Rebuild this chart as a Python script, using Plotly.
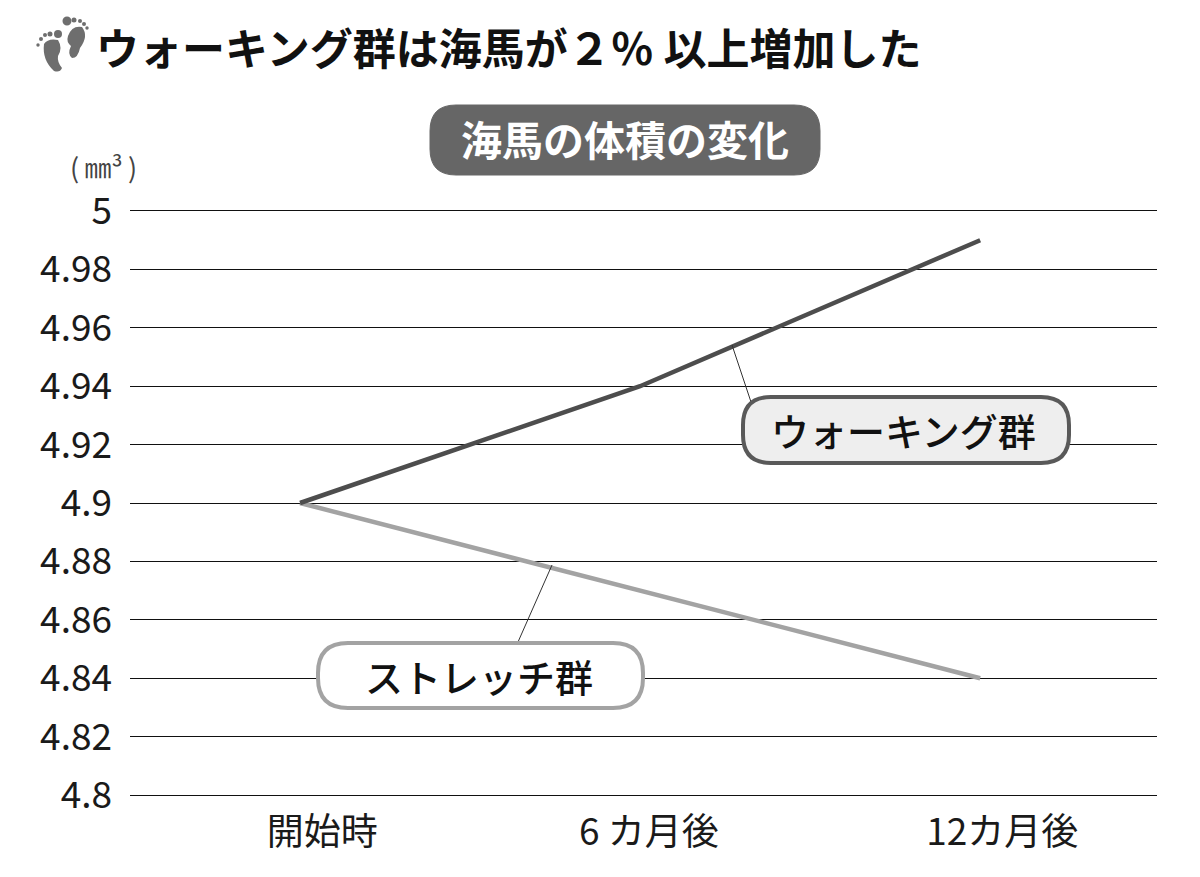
# plot.py
# Hippocampus volume over 12 months, walking vs stretching group.
# Callouts, the title badge and the feet icon are placed in image pixels.

import plotly.graph_objects as go

# The page keeps the browser's 8px body margin, so the figure is 8px smaller
# and image pixels are shifted by that much.
PAGE_MARGIN = 8
WIDTH, HEIGHT = 1200 - PAGE_MARGIN, 877 - PAGE_MARGIN
LEFT, RIGHT, TOP, BOTTOM = 130, 1157, 211, 795
JP_FONT = "Noto Sans CJK JP"

categories = ["開始時", "6 カ月後", "12カ月後"]
walking = [4.9, 4.94, 4.99]
stretch = [4.9, 4.87, 4.84]
y_ticks = [4.8, 4.82, 4.84, 4.86, 4.88, 4.9, 4.92, 4.94, 4.96, 4.98, 5]
y_labels = ["4.8", "4.82", "4.84", "4.86", "4.88", "4.9", "4.92", "4.94", "4.96", "4.98", "5"]
# The printed labels sit a little to the right of the points they name.
label_positions = [0.065, 1.026, 2.065]

WALK_COLOR = "#4d4d4d"
STRETCH_COLOR = "#a3a3a3"
INK = "#1a1a1a"


def px(x):
    return (x - LEFT) / (RIGHT - LEFT)


def py(y):
    return (BOTTOM - y) / (BOTTOM - TOP)


def pill_path(x0, y0, x1, y1, r):
    return (
        f"M {px(x0 + r)} {py(y0)} L {px(x1 - r)} {py(y0)} "
        f"Q {px(x1)} {py(y0)} {px(x1)} {py(y0 + r)} L {px(x1)} {py(y1 - r)} "
        f"Q {px(x1)} {py(y1)} {px(x1 - r)} {py(y1)} L {px(x0 + r)} {py(y1)} "
        f"Q {px(x0)} {py(y1)} {px(x0)} {py(y1 - r)} L {px(x0)} {py(y0 + r)} "
        f"Q {px(x0)} {py(y0)} {px(x0 + r)} {py(y0)} Z"
    )


def pill(x0, y0, x1, y1, r, fill, line, width):
    return dict(type="path", xref="paper", yref="paper", path=pill_path(x0, y0, x1, y1, r),
                fillcolor=fill, line=dict(color=line, width=width), layer="above")


def leader(x0, y0, x1, y1):
    return dict(type="line", xref="paper", yref="paper", x0=px(x0), y0=py(y0), x1=px(x1), y1=py(y1),
                line=dict(color="#333333", width=1), layer="above")


def dot(cx, cy, rx, ry=None):
    ry = rx if ry is None else ry
    return dict(type="circle", xref="paper", yref="paper", x0=px(cx - rx), x1=px(cx + rx),
                y0=py(cy + ry), y1=py(cy - ry), fillcolor="#6e6e6e", line_width=0, layer="above")


def sole(points):
    # Closed smooth outline through pairs of quadratic curves.
    x, y = points[0]
    path = f"M {px(x)} {py(y)}"
    for (cx, cy), (ex, ey) in zip(points[1::2], points[2::2]):
        path += f" Q {px(cx)} {py(cy)} {px(ex)} {py(ey)}"
    return dict(type="path", xref="paper", yref="paper", path=path + " Z",
                fillcolor="#6e6e6e", line_width=0, layer="above")


def text(x, y, s, size, color=INK, weight=400):
    return dict(xref="paper", yref="paper", x=px(x), y=py(y), text=s, showarrow=False,
                xanchor="center", yanchor="middle",
                font=dict(family=JP_FONT, size=size, color=color, weight=weight))


fig = go.Figure()
fig.add_trace(go.Scatter(x=[0, 1, 2], y=stretch, mode="lines", line=dict(color=STRETCH_COLOR, width=4.5),
                         showlegend=False))
fig.add_trace(go.Scatter(x=[0, 1, 2], y=walking, mode="lines", line=dict(color=WALK_COLOR, width=4.5),
                         showlegend=False))

shapes = [
    pill(430, 105, 820, 175, 26, "#666666", "#666666", 1),
    leader(732, 345, 751, 402),
    leader(552, 565, 518, 642),
    pill(743, 397, 1069, 463, 28, "#eeeeee", "#595959", 4),
    pill(318, 643, 643, 708, 30, "#ffffff", "#a3a3a3", 4),
    # feet icon
    sole([(44, 44), (48, 38), (58, 40), (63, 48), (58, 56), (57, 62), (62, 68), (60, 73), (54, 71), (42, 60), (44, 44)]),
    sole([(68, 36), (72, 25), (82, 27), (89, 36), (80, 48), (78, 58), (72, 58), (67, 54), (71, 46), (66, 42), (68, 36)]),
    dot(58, 34, 4), dot(50, 34, 2.5), dot(45, 35, 2), dot(41, 39, 2), dot(38, 45, 1.7),
    dot(67, 21, 4.5), dot(74, 20, 2.5), dot(80, 21, 2), dot(84, 24, 2), dot(87, 28, 1.7),
]

annotations = [
    text(508, 46, "ウォーキング群は海馬が２％ 以上増加した", 43, "#111111", 700),
    text(625, 138, "海馬の体積の変化", 41, "#ffffff", 700),
    text(103, 167, "(\u2009㎜³\u2009)", 27, "#444444"),
    text(903, 429, "ウォーキング群", 38, "#111111", 500),
    text(479, 675, "ストレッチ群", 38, "#111111", 500),
]

fig.update_layout(
    width=WIDTH,
    height=HEIGHT,
    margin=dict(l=LEFT - PAGE_MARGIN, r=WIDTH + PAGE_MARGIN - RIGHT, t=TOP - PAGE_MARGIN,
                b=HEIGHT + PAGE_MARGIN - BOTTOM),
    paper_bgcolor="white",
    plot_bgcolor="white",
    shapes=shapes,
    annotations=annotations,
    xaxis=dict(
        range=[-0.5, 2.52],
        tickmode="array",
        tickvals=label_positions,
        ticktext=categories,
        showgrid=False,
        zeroline=False,
        ticks="",
        # top and bottom rules: plotly drops gridlines that land on the range ends
        showline=True,
        mirror=True,
        linecolor="#111111",
        linewidth=1,
        ticklabelstandoff=5,
        tickfont=dict(family=JP_FONT, size=37, color=INK),
    ),
    yaxis=dict(
        range=[4.8, 5],
        tickmode="array",
        tickvals=y_ticks,
        ticktext=y_labels,
        showgrid=True,
        gridcolor="#111111",
        gridwidth=1,
        zeroline=False,
        ticks="",
        ticklabelstandoff=17,
        tickfont=dict(family=JP_FONT, size=37, color=INK),
    ),
)

fig.write_html("out.html")
